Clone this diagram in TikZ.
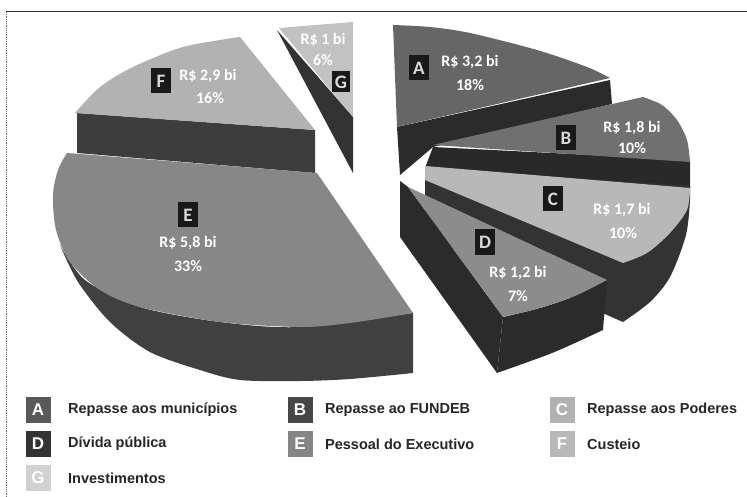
\documentclass[tikz,border=0pt]{standalone}
\usepackage{fontspec}
\setmainfont{Liberation Sans}
\newfontfamily\chartfont{Carlito}
\definecolor{Atop}{gray}{0.40}
\definecolor{Adark}{gray}{0.17}
\definecolor{Btop}{gray}{0.44}
\definecolor{Bdark}{gray}{0.16}
\definecolor{Ctop}{gray}{0.72}
\definecolor{Cdark}{gray}{0.20}
\definecolor{Dtop}{gray}{0.55}
\definecolor{Ddark}{gray}{0.17}
\definecolor{Etop}{gray}{0.53}
\definecolor{Edark}{gray}{0.25}
\definecolor{Ftop}{gray}{0.70}
\definecolor{Fdark}{gray}{0.24}
\definecolor{Gtop}{gray}{0.76}
\definecolor{Gdark}{gray}{0.20}
\begin{document}
\begin{tikzpicture}[x=1pt,y=-1pt,
  lbox/.style={fill=black!90, text=white!85!black, font=\chartfont\bfseries\fontsize{19}{19}\selectfont, minimum width=20pt, minimum height=25pt, inner sep=0pt},
  val/.style={text=white, font=\chartfont\bfseries\fontsize{16}{16}\selectfont, inner sep=0pt},
  leg/.style={minimum width=25pt, minimum height=26pt, inner sep=0pt, text=white, font=\bfseries\fontsize{17}{17}\selectfont},
  legtxt/.style={anchor=west, inner sep=0pt, text=black!85, font=\bfseries\fontsize{14.5}{14.5}\selectfont}
]
\useasboundingbox (0,0) rectangle (747,497);
\fill[white] (0,0) rectangle (747,497);
% frame
\draw[line width=1pt, black!80] (6,12) -- (747,12);
\draw[line width=0.8pt, black!60, densely dotted] (6,12) -- (6,497);
% G
\fill[Gdark] (277,30) -- (353,117) -- (353,173) -- cycle;
\fill[Gtop] (279,28) -- (353,22) -- (353,117) -- cycle;
% F
\fill[Fdark] (77,113) -- (315,130) -- (315,173) -- (77,153) -- cycle;
\fill[Ftop] plot[smooth] coordinates {(75,113) (100,87) (133,67) (183,47) (240,37)} -- (315,130) -- cycle;
% A
\fill[Adark] (397,127) -- (610,80) -- (612,104) -- (433,147) -- (400,175) -- cycle;
\fill[Atop] plot[smooth] coordinates {(393,25) (430,27) (470,33) (537,50) (587,67) (610,78)} -- (397,127) -- cycle;
% B
\fill[Bdark] (433,147) -- (690,160) -- (690,188) -- (425,168) -- cycle;
\fill[Btop] (433,145) -- plot[smooth] coordinates {(643,97) (662,105) (677,120) (687,140) (690,162)} -- cycle;
% C
\fill[Cdark] (425,168) -- (690,186) -- plot[smooth] coordinates {(690,200) (686,235) (670,277) (650,302) (623,322)} -- (425,235) -- cycle;
\fill[Ctop] (425,166) -- plot[smooth] coordinates {(690,188) (687,210) (670,233) (647,253) (623,263)} -- (425,180) -- cycle;
% E
\fill[Edark] plot[smooth] coordinates {(60,245) (85,280) (140,307) (220,322) (300,327) (413,313)} -- (413,373) -- plot[smooth] coordinates {(413,373) (350,379) (300,381) (240,380) (200,370) (150,352) (110,322) (78,282) (60,245)} -- cycle;
\fill[Etop] (67,153) -- (317,173) -- (413,313) -- plot[smooth] coordinates {(413,313) (350,323) (300,327) (220,322) (140,307) (100,290) (70,262) (56,230) (53,195) (58,170) (67,153)} -- cycle;
% D
\fill[Ddark] (400,181) -- (408,187) -- (503,317) -- (497,373) -- (400,237) -- cycle;
\fill[Ddark] plot[smooth] coordinates {(503,317) (540,308) (575,296) (607,280)} -- (603,330) -- plot[smooth] coordinates {(603,330) (575,343) (547,355) (497,373)} -- cycle;
\fill[Dtop] (408,187) -- plot[smooth] coordinates {(607,280) (575,296) (540,308) (503,317)} -- cycle;
% slice labels
\node[lbox] (bA) at (419,68) {A};
\node[val] (vA) at (470,62) {R\$ 3,2 bi};
\node[val] (pA) at (470,85) {18\%};
\node[lbox] (bB) at (566,138) {B};
\node[val] (vB) at (632,128) {R\$ 1,8 bi};
\node[val] (pB) at (632,148) {10\%};
\node[lbox] (bC) at (553,199) {C};
\node[val] (vC) at (622,210) {R\$ 1,7 bi};
\node[val] (pC) at (623,233) {10\%};
\node[lbox] (bD) at (485,242) {D};
\node[val] (vD) at (518,273) {R\$ 1,2 bi};
\node[val] (pD) at (518,296) {7\%};
\node[lbox] (bE) at (188,215) {E};
\node[val] (vE) at (188,243) {R\$ 5,8 bi};
\node[val] (pE) at (188,266) {33\%};
\node[lbox] (bF) at (161,81) {F};
\node[val] (vF) at (208,76) {R\$ 2,9 bi};
\node[val] (pF) at (210,98) {16\%};
\node[lbox, minimum width=18pt, minimum height=21pt] (bG) at (341,82) {G};
\node[val] (vG) at (323,40) {R\$ 1 bi};
\node[val] (pG) at (323,60) {6\%};
% legend
\node[leg, fill=black!65] (lA) at (38,410) {A};
\node[legtxt] (tA) at (68,410) {Repasse aos municípios};
\node[leg, fill=black!72] (lB) at (300,410) {B};
\node[legtxt] (tB) at (325,410) {Repasse ao FUNDEB};
\node[leg, fill=black!30] (lC) at (562,410) {C};
\node[legtxt] (tC) at (587,410) {Repasse aos Poderes};
\node[leg, fill=black!80] (lD) at (38,444) {D};
\node[legtxt] (tD) at (68,444) {Dívida pública};
\node[leg, fill=black!48] (lE) at (300,444) {E};
\node[legtxt] (tE) at (325,444) {Pessoal do Executivo};
\node[leg, fill=black!28] (lF) at (562,444) {F};
\node[legtxt] (tF) at (587,444) {Custeio};
\node[leg, fill=black!18] (lG) at (38,478) {G};
\node[legtxt] (tG) at (68,478) {Investimentos};
\end{tikzpicture}
\end{document}
